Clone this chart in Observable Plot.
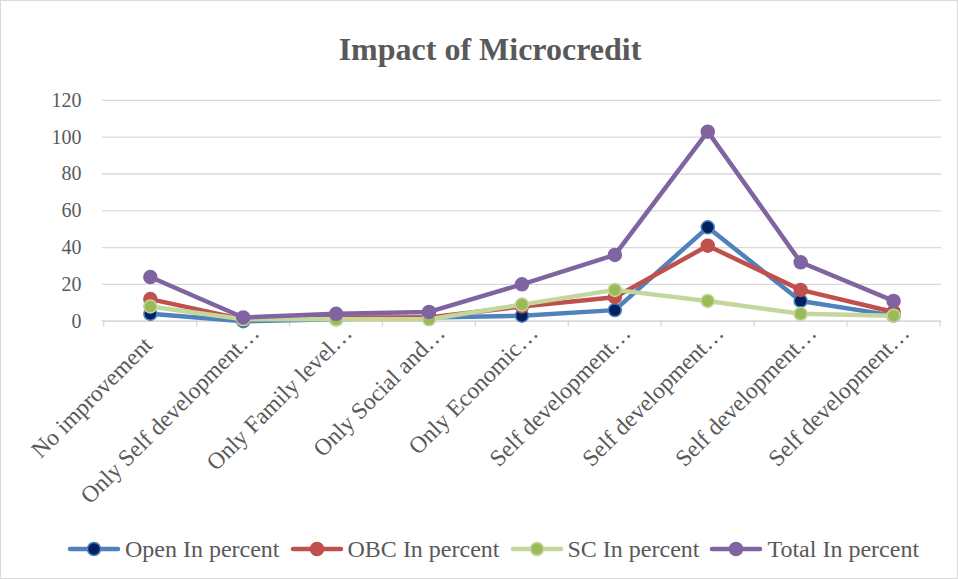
<!DOCTYPE html>
<html>
<head>
<meta charset="utf-8">
<script src="https://cdn.jsdelivr.net/npm/d3@7"></script>
<script src="https://cdn.jsdelivr.net/npm/@observablehq/plot@0.6"></script>
<style>
  html, body { margin: 0; padding: 0; background: #fff; }
  #wrap { position: relative; width: 958px; height: 579px; box-sizing: border-box; border: 1px solid #d9d9d9; font-family: "Liberation Serif", "Times New Roman", serif; color: #595959; overflow: hidden; }
  #title { position: absolute; left: 0; right: 0; top: 28px; text-align: center; font-size: 32px; line-height: 40px; font-weight: bold; padding-left: 22px; }
  #chart { position: absolute; left: -1px; top: -1px; }
  #legend { position: absolute; left: 0; right: 0; top: 533px; display: flex; justify-content: center; font-size: 24px; line-height: 30px; padding-left: 28px; }
  .item { display: flex; align-items: center; margin-right: 10px; }
  .item:last-child { margin-right: 0; }
  .item svg { margin-right: 4px; }
</style>
</head>
<body>
<div id="wrap">
  <div id="title">Impact of Microcredit</div>
  <div id="chart"></div>
  <div id="legend"></div>
</div>
<script>
const categories = ["No improvement", "Only Self development…", "Only Family level…", "Only Social and…", "Only Economic…", "Self development…", "Self development…", "Self development…", "Self development…"];
const seriesNames = ["Open In percent", "OBC In percent", "SC In percent", "Total In percent"];
const openVals  = [4, 0, 1, 2, 3, 6, 51, 11, 3];
const obcVals   = [12, 1, 2, 2, 8, 13, 41, 17, 5];
const scVals    = [8, 1, 1, 1, 9, 17, 11, 4, 3];
const totalVals = [24, 2, 4, 5, 20, 36, 103, 32, 11];
const lineColors = ["#4f81bd", "#c0504d", "#c3d69b", "#8064a2"];
const dotFills   = ["#002060", "#c0504d", "#9bbb59", "#8064a2"];
const yTicks = [0, 20, 40, 60, 80, 100, 120];

const allVals = [openVals, obcVals, scVals, totalVals];
const idx = d3.range(categories.length);
const step = (958 - 102 - 16) / categories.length;
const labelStyle = {tickSize: 0, tickRotate: -45, fontSize: 23.5, fontFamily: "Liberation Serif", fill: "#595959", tickFormat: i => categories[i], label: null};

const marks = [
  Plot.gridY(yTicks, {stroke: "#d9d9d9", strokeOpacity: 1, strokeWidth: 1.3}),
  Plot.axisY(yTicks, {tickSize: 0, tickPadding: 21, fontSize: 20, fontFamily: "Liberation Serif", fill: "#595959", label: null}),
  Plot.ruleY([0], {stroke: "#d9d9d9", strokeWidth: 1.5}),
  Plot.axisX(idx, {tickSize: 6, stroke: "#d9d9d9", strokeWidth: 1.3, tickFormat: () => "", dx: -step / 2, label: null}),
  Plot.axisX([idx[idx.length - 1]], {tickSize: 6, stroke: "#d9d9d9", strokeWidth: 1.3, tickFormat: () => "", dx: step / 2, label: null}),
  Plot.axisX(idx.slice(0, 1), {...labelStyle, tickPadding: 20, dx: -2}),
  Plot.axisX(idx.slice(1), {...labelStyle, tickPadding: 8, dx: 12})
];
allVals.forEach((vals, s) => {
  const data = idx.map(i => ({i, v: vals[i]}));
  marks.push(Plot.line(data, {x: "i", y: "v", stroke: lineColors[s], strokeWidth: 4.5, strokeLinejoin: "round", strokeLinecap: "round"}));
  marks.push(Plot.dot(data, {x: "i", y: "v", r: 6.5, fill: dotFills[s], stroke: lineColors[s], strokeWidth: 1.5}));
});

const chart = Plot.plot({
  width: 958,
  height: 520,
  marginTop: 100,
  marginBottom: 199,
  marginLeft: 102,
  marginRight: 16,
  style: {fontFamily: "Liberation Serif", color: "#595959", background: "transparent", overflow: "visible"},
  x: {type: "point", domain: idx, padding: 0.5, axis: null},
  y: {domain: [0, 120], axis: null},
  marks
});
document.getElementById("chart").append(chart);

const legend = document.getElementById("legend");
seriesNames.forEach((name, s) => {
  const item = document.createElement("div");
  item.className = "item";
  item.innerHTML = `<svg width="54" height="16"><line x1="3" y1="8" x2="51" y2="8" stroke="${lineColors[s]}" stroke-width="4.5" stroke-linecap="round"/><circle cx="27" cy="8" r="6.5" fill="${dotFills[s]}" stroke="${lineColors[s]}" stroke-width="1.5"/></svg><span>${name}</span>`;
  legend.append(item);
});
</script>
</body>
</html>
